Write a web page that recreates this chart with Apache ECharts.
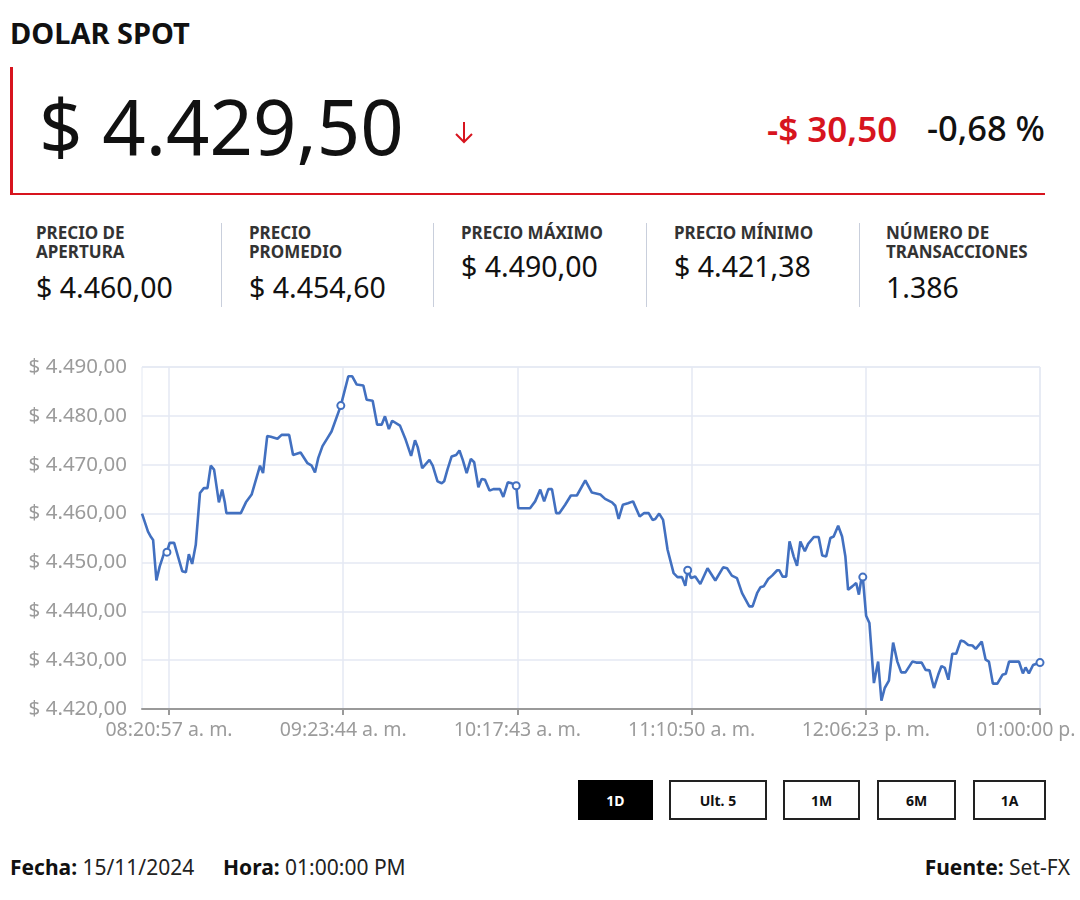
<!DOCTYPE html>
<html><head><meta charset="utf-8">
<script src="https://cdn.jsdelivr.net/npm/echarts@6/dist/echarts.min.js"></script>
<style>
html,body{margin:0;padding:0;background:#fff;width:1080px;height:900px;overflow:hidden;font-family:'Noto Sans',sans-serif;color:#111;}
.a{position:absolute;white-space:nowrap;line-height:1;}
#title{left:10px;top:18px;font-size:29px;font-weight:700;color:#111;}
#box{position:absolute;left:10px;top:67px;width:1032px;height:126px;border-left:3px solid #d7141e;border-bottom:2px solid #d7141e;}
#price{left:39px;top:88px;font-size:76px;font-weight:400;color:#111;}
#arrow{position:absolute;left:454px;top:121px;width:20px;height:23px;}
#chg{left:767px;top:111px;font-size:35px;font-weight:600;color:#d7141e;}
#pct{right:35px;top:111px;font-size:34.5px;font-weight:500;color:#111;}
.lab{font-size:17px;font-weight:700;color:#333;line-height:19px;}
.val{font-size:28.5px;color:#111;}
.sep{position:absolute;top:223px;height:84px;width:1px;background:#c9cfdc;}
.btn{position:absolute;top:780px;height:40px;box-sizing:border-box;border:2px solid #222;background:#fff;color:#111;font-size:14px;font-weight:700;display:flex;align-items:center;justify-content:center;}
.btn.on{background:#000;color:#fff;border-color:#000;}
.ft{top:857px;font-size:21px;color:#222;}
.ft b{font-weight:700;color:#111;}
#chart{position:absolute;left:0;top:340px;width:1080px;height:420px;}
</style></head>
<body>
<div class="a" id="title">DOLAR SPOT</div>
<div id="box"></div>
<div class="a" id="price">$ 4.429,50</div>
<svg id="arrow" viewBox="0 0 20 23"><path d="M10 1 L10 21 M2 13 L10 21 L18 13" fill="none" stroke="#d7141e" stroke-width="2"/></svg>
<div class="a" id="chg">-$ 30,50</div>
<div class="a" id="pct">-0,68 %</div>

<div class="a lab" style="left:36px;top:223px">PRECIO DE<br>APERTURA</div>
<div class="a val" style="left:36px;top:273px">$ 4.460,00</div>
<div class="sep" style="left:221px"></div>
<div class="a lab" style="left:249px;top:223px">PRECIO<br>PROMEDIO</div>
<div class="a val" style="left:249px;top:273px">$ 4.454,60</div>
<div class="sep" style="left:433px"></div>
<div class="a lab" style="left:461px;top:223px">PRECIO MÁXIMO</div>
<div class="a val" style="left:461px;top:252px">$ 4.490,00</div>
<div class="sep" style="left:646px"></div>
<div class="a lab" style="left:674px;top:223px">PRECIO MÍNIMO</div>
<div class="a val" style="left:674px;top:252px">$ 4.421,38</div>
<div class="sep" style="left:859px"></div>
<div class="a lab" style="left:886px;top:223px">NÚMERO DE<br>TRANSACCIONES</div>
<div class="a val" style="left:886px;top:273px">1.386</div>

<div id="chart"></div>

<div class="btn on" style="left:578px;width:75px">1D</div>
<div class="btn" style="left:669px;width:98px">Ult. 5</div>
<div class="btn" style="left:783px;width:77px">1M</div>
<div class="btn" style="left:877px;width:79px">6M</div>
<div class="btn" style="left:973px;width:73px">1A</div>

<div class="a ft" style="left:10px"><b>Fecha:</b> 15/11/2024</div>
<div class="a ft" style="left:223px"><b>Hora:</b> 01:00:00 PM</div>
<div class="a ft" style="right:10px"><b>Fuente:</b> Set-FX</div>

<script>
// Tick labels on the x axis (sample positions and their times)
const tickSamples = [9, 67, 125, 183, 241, 299];
const tickLabels = ['08:20:57 a. m.', '09:23:44 a. m.', '10:17:43 a. m.', '11:10:50 a. m.', '12:06:23 p. m.', '01:00:00 p. m.'];
// Samples that carry a visible marker
const markedSamples = [8.3, 66.2, 124.6, 181.7, 240, 299];
// Sample position (trade sequence) and price
const sampleIdx = [
0,2,3,3.7,4.8,5.9,7.3,8.3,9.2,10.7,12,13.4,14.6,15.6,16.7,17.9,19.3,20.6,21.8,22.9,24,25.6,26.7,27.6,28.1,32.9,34.6,36.5,39.3,40.3,41.7,42.9,45.1,46.5,49,50.3,52.8,55.1,56.5,57.6,58.7,60.1,61.8,63.1,66.2,68.7,70,71.5,73.7,74.8,76.8,78.3,79.8,80.9,82.2,83.3,85.9,87.8,89.6,90.9,91.8,93.3,95.7,96.8,98.4,99.8,
100.6,101.7,103.1,104.6,105.7,106.8,108.1,109.5,110.6,112,113.1,114.2,115.7,117,119.2,120.3,121.8,123.1,124.6,125.3,129.2,130.9,132.6,133.9,135.3,136.5,137.9,139,140.9,142.8,144.8,147.6,149.8,152.6,154.2,156.5,157.6,158.7,160.1,161.8,163.5,165.7,167.2,168.7,170,170.9,172.2,173.5,175,177,178.3,179.8,180.9,181.7,182.8,184.2,185.9,188.3,190.9,193.5,194.8,196.4,198.1,199.8,
202.2,203.3,204.8,205.9,207,208.5,209.8,211.5,212.2,213.3,214.5,215.6,217,218.1,219.2,220.7,221.8,223.7,225.3,226.5,227.8,229.2,230.3,231.8,233.1,234.2,235.1,236.5,237.8,238.7,239.4,240,241.1,242.2,243.7,245.1,246.2,247.3,248.7,250.1,251.5,252.8,254.2,256.5,257.8,259.6,260.9,262.2,263.7,265.1,266.2,267.3,268.5,269.8,271.1,272.6,273.7,275.1,276.5,277.6,279.6,280.9,282,283.3,284.8,286.5,287.6,288.7,292,293.3,294.2,295.3,296.7,299
];
const prices = [
4460.0,4456.3,4455.2,4454.6,4446.3,4449.2,4451.8,4452.1,4454.0,4454.0,4451.2,4448.2,4448.0,4451.7,4449.7,4453.6,4464.2,4465.2,4465.2,4469.8,4469.0,4462.3,4464.9,4462.2,4460.1,4460.1,4462.3,4463.9,4469.8,4468.3,4475.9,4475.7,4475.3,4476.1,4476.1,4472.0,4472.5,4470.3,4469.8,4468.4,4471.4,4473.8,4475.5,4476.8,4482.1,4488.1,4488.1,4486.4,4486.2,4483.3,4483.1,4478.2,4478.2,4479.9,4477.3,4479.0,4478.0,4475.1,4471.8,4475.0,4473.6,4469.3,4471.0,4469.8,4466.6,4466.2,
4466.6,4469.0,4471.7,4472.0,4472.9,4471.0,4468.3,4471.2,4470.5,4465.4,4467.1,4466.9,4464.7,4465.0,4465.0,4463.4,4466.4,4466.2,4465.7,4461.1,4461.1,4462.5,4464.9,4462.5,4465.0,4465.0,4460.1,4460.1,4461.8,4463.7,4463.7,4466.8,4464.3,4463.9,4463.0,4462.3,4461.6,4458.9,4461.8,4462.1,4462.5,4459.4,4460.1,4460.1,4458.7,4458.9,4460.0,4458.7,4452.6,4447.8,4447.0,4447.0,4445.2,4448.4,4446.8,4447.1,4445.6,4448.8,4446.3,4449.0,4448.8,4447.3,4446.8,4443.7,
4441.0,4441.0,4443.7,4444.9,4445.1,4446.6,4447.3,4448.4,4448.4,4447.1,4447.1,4454.3,4451.2,4449.3,4454.3,4452.3,4453.8,4455.2,4455.2,4451.4,4451.2,4455.0,4455.3,4457.5,4455.3,4451.2,4444.4,4445.1,4445.8,4443.4,4446.2,4447.0,4439.1,4437.6,4425.3,4429.7,4421.7,4424.3,4425.8,4433.6,4429.7,4427.5,4427.5,4429.7,4429.5,4429.5,4428.0,4427.9,4424.3,4427.0,4428.8,4428.4,4426.0,4431.3,4431.3,4434.0,4433.8,4433.1,4433.0,4432.3,4433.8,4430.1,4429.7,4425.2,4425.2,4427.0,4427.2,4429.7,4429.7,4427.3,4428.5,4427.3,4429.0,4429.5
];
// Y axis range
const yMin = 4420, yMax = 4490, yStep = 10;

function money(v){
  const s = v.toFixed(2).split('.');
  return '$ ' + s[0].replace(/\B(?=(\d{3})+(?!\d))/g, '.') + ',' + s[1];
}

const seriesData = sampleIdx.map((x, i) => {
  const item = { value: [x, prices[i]] };
  if (markedSamples.indexOf(x) >= 0) { item.symbol = 'emptyCircle'; item.symbolSize = 7; }
  return item;
});

const chart = echarts.init(document.getElementById('chart'), null, { renderer: 'canvas' });
const gridColor = '#e4e9f3';
chart.setOption({
  animation: false,
  grid: { left: 142, right: 40, top: 27, bottom: 51, show: true, borderColor: gridColor, borderWidth: 1, containLabel: false, outerBoundsMode: 'none' },
  xAxis: {
    type: 'value', min: 0, max: 299,
    axisLine: { show: true, lineStyle: { color: '#9a9a9a', width: 2 } },
    axisTick: { show: true, customValues: tickSamples, length: 6, lineStyle: { color: '#9a9a9a', width: 2 } },
    axisLabel: { customValues: tickSamples, color: '#9b9b9b', fontSize: 19.5, fontFamily: 'Noto Sans', margin: 11,
      formatter: v => tickLabels[tickSamples.indexOf(Math.round(v))] || '' },
    splitLine: { show: true, lineStyle: { color: gridColor, width: 1.5 } }
  },
  yAxis: {
    type: 'value', min: yMin, max: yMax, interval: yStep,
    axisLine: { show: false }, axisTick: { show: false },
    axisLabel: { color: '#9b9b9b', fontSize: 20.5, fontFamily: 'Noto Sans', margin: 15, formatter: money },
    splitLine: { show: true, lineStyle: { color: gridColor, width: 1.5 } }
  },
  series: [{
    type: 'line', data: seriesData, symbol: 'none', showSymbol: true,
    lineStyle: { color: '#4270c0', width: 2.6 },
    itemStyle: { color: '#4270c0', borderColor: '#4270c0', borderWidth: 1.5 },
    emphasis: { disabled: true }
  }]
});
</script>
</body></html>
